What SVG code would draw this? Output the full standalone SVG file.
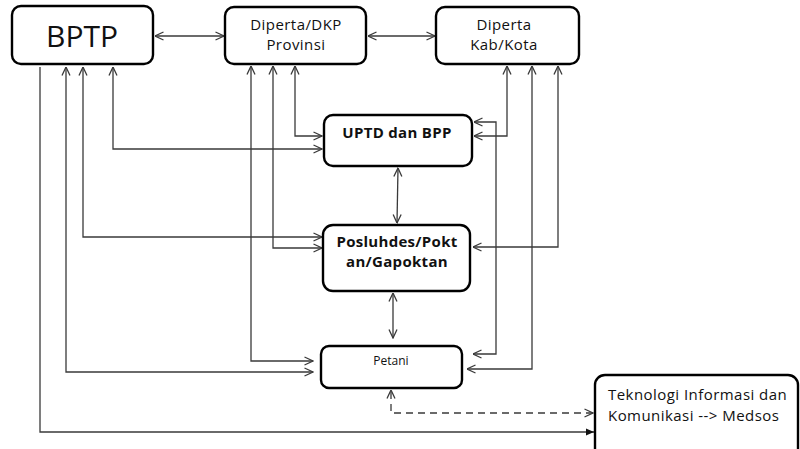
<svg xmlns="http://www.w3.org/2000/svg" width="800" height="449" viewBox="0 0 800 449">
<defs>
<style>
.box{fill:#fff;stroke:#000;stroke-width:2.4}
.t{font-family:"Open Sans","Noto Sans",sans-serif;fill:#111;text-anchor:middle}
.r{font-size:15px;letter-spacing:0.45px}
.b{font-size:15px;font-weight:bold;letter-spacing:0.3px}
.c{fill:none;stroke:#3a3a3a;stroke-width:1.3}
.d{stroke-dasharray:7 5}
</style>
<marker id="oa" viewBox="0 0 10 10" refX="9.5" refY="5" markerWidth="10" markerHeight="10" markerUnits="userSpaceOnUse" orient="auto-start-reverse">
<path d="M1,1 L9.5,5 L1,9" fill="none" stroke="#3a3a3a" stroke-width="1.3"/>
</marker>
<marker id="fa" viewBox="0 0 10 10" refX="9" refY="5" markerWidth="9" markerHeight="9" markerUnits="userSpaceOnUse" orient="auto">
<path d="M0,1 L9,5 L0,9 Z" fill="#111"/>
</marker>
</defs>
<rect width="800" height="449" fill="#fff"/>
<g id="connectors">
<path class="c" d="M155,36 H224" marker-start="url(#oa)" marker-end="url(#oa)"/>
<path class="c" d="M368,36 H435" marker-start="url(#oa)" marker-end="url(#oa)"/>
<path class="c" d="M40,67 V432 H594" marker-end="url(#fa)"/>
<path class="c" d="M66,67 V372 H313" marker-start="url(#oa)" marker-end="url(#oa)"/>
<path class="c" d="M83,67 V237 H322" marker-start="url(#oa)" marker-end="url(#oa)"/>
<path class="c" d="M113,67 V149 H322" marker-start="url(#oa)" marker-end="url(#oa)"/>
<path class="c" d="M251,66 V361 H313" marker-start="url(#oa)" marker-end="url(#oa)"/>
<path class="c" d="M273,66 V248 H322" marker-start="url(#oa)" marker-end="url(#oa)"/>
<path class="c" d="M295,66 V136 H322" marker-start="url(#oa)" marker-end="url(#oa)"/>
<path class="c" d="M507,66 V136 H474" marker-start="url(#oa)" marker-end="url(#oa)"/>
<path class="c" d="M474,122 H496 V354 H473" marker-start="url(#oa)" marker-end="url(#oa)"/>
<path class="c" d="M532,66 V369 H467" marker-start="url(#oa)" marker-end="url(#oa)"/>
<path class="c" d="M558,66 V247 H473" marker-start="url(#oa)" marker-end="url(#oa)"/>
<path class="c" d="M398,168 L397,223" marker-start="url(#oa)" marker-end="url(#oa)"/>
<path class="c" d="M393,293 V338" marker-start="url(#oa)" marker-end="url(#oa)"/>
<path class="c d" d="M593,413 H391 V390" marker-start="url(#oa)" marker-end="url(#oa)"/>
</g>
<g id="bptp">
<rect class="box" x="12" y="6" width="141" height="58" rx="9"/>
<text class="t" x="82" y="47" font-size="30">BPTP</text>
</g>
<g id="diperta-prov">
<rect class="box" x="225" y="7" width="141" height="57" rx="9"/>
<text class="t r" x="296" y="30">Diperta/DKP</text>
<text class="t r" x="296" y="50">Provinsi</text>
</g>
<g id="diperta-kab">
<rect class="box" x="436" y="7" width="143" height="57" rx="9"/>
<text class="t r" x="504" y="30">Diperta</text>
<text class="t r" x="504" y="50">Kab/Kota</text>
</g>
<g id="uptd">
<rect class="box" x="324" y="115" width="148" height="51" rx="9"/>
<text class="t b" x="397" y="138">UPTD dan BPP</text>
</g>
<g id="posluhdes">
<rect class="box" x="323" y="225" width="147" height="66" rx="10"/>
<text class="t b" x="397" y="247">Posluhdes/Pokt</text>
<text class="t b" x="397" y="267">an/Gapoktan</text>
</g>
<g id="petani">
<rect class="box" x="321" y="346" width="141" height="42" rx="8"/>
<text class="t" x="391" y="365" font-size="12">Petani</text>
</g>
<g id="tik">
<rect class="box" x="595" y="375" width="203" height="90" rx="10"/>
<text class="t r" x="608" y="400" style="text-anchor:start">Teknologi Informasi dan</text>
<text class="t r" x="608" y="421" style="text-anchor:start">Komunikasi --&gt; Medsos</text>
</g>
</svg>
